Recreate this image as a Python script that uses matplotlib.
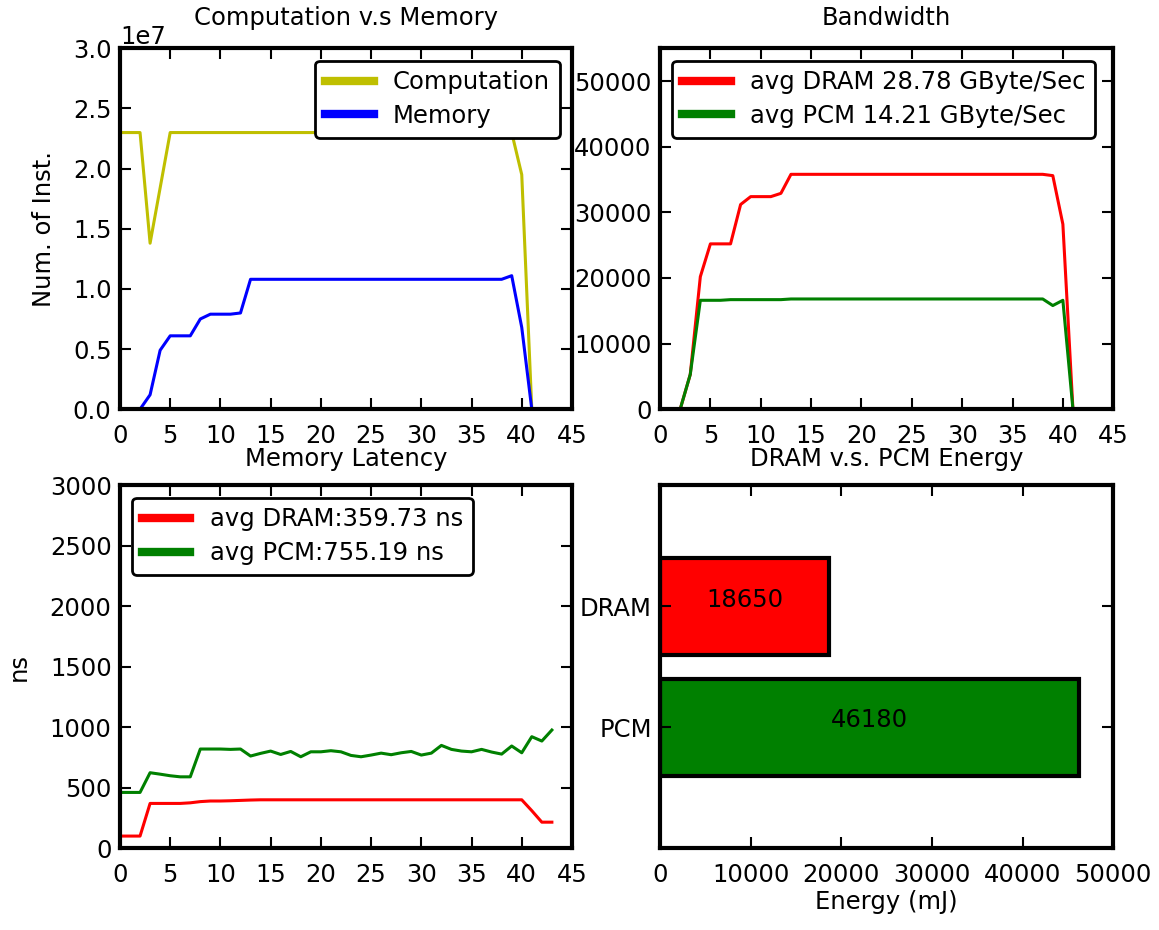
import matplotlib
matplotlib.use("Agg")
import matplotlib.pyplot as plt

# Computation v.s Memory (instructions per interval)
steps = list(range(42))
computation = [2.30e7, 2.30e7, 2.30e7, 1.38e7, 1.84e7, 2.30e7, 2.30e7, 2.30e7, 2.30e7, 2.30e7,
               2.30e7, 2.30e7, 2.30e7, 2.30e7, 2.30e7, 2.30e7, 2.30e7, 2.30e7, 2.30e7, 2.30e7,
               2.30e7, 2.30e7, 2.30e7, 2.30e7, 2.30e7, 2.30e7, 2.30e7, 2.30e7, 2.30e7, 2.30e7,
               2.30e7, 2.30e7, 2.30e7, 2.30e7, 2.30e7, 2.30e7, 2.30e7, 2.30e7, 2.30e7, 2.30e7,
               1.95e7, 0.0]
memory = [0.0, 0.0, 0.0, 0.12e7, 0.49e7, 0.61e7, 0.61e7, 0.61e7, 0.75e7, 0.79e7,
          0.79e7, 0.79e7, 0.80e7, 1.08e7, 1.08e7, 1.08e7, 1.08e7, 1.08e7, 1.08e7, 1.08e7,
          1.08e7, 1.08e7, 1.08e7, 1.08e7, 1.08e7, 1.08e7, 1.08e7, 1.08e7, 1.08e7, 1.08e7,
          1.08e7, 1.08e7, 1.08e7, 1.08e7, 1.08e7, 1.08e7, 1.08e7, 1.08e7, 1.08e7, 1.11e7,
          0.68e7, 0.0]

# Bandwidth
bw_dram = [0, 0, 0, 5300, 20200, 25200, 25200, 25200, 31200, 32400,
           32400, 32400, 32900, 35800, 35800, 35800, 35800, 35800, 35800, 35800,
           35800, 35800, 35800, 35800, 35800, 35800, 35800, 35800, 35800, 35800,
           35800, 35800, 35800, 35800, 35800, 35800, 35800, 35800, 35800, 35600,
           28200, 0]
bw_pcm = [0, 0, 0, 5300, 16600, 16600, 16600, 16700, 16700, 16700,
          16700, 16700, 16700, 16800, 16800, 16800, 16800, 16800, 16800, 16800,
          16800, 16800, 16800, 16800, 16800, 16800, 16800, 16800, 16800, 16800,
          16800, 16800, 16800, 16800, 16800, 16800, 16800, 16800, 16800, 15800,
          16600, 0]

# Memory latency (ns)
lat_steps = list(range(44))
lat_dram = [100, 100, 100, 370, 370, 370, 370, 375, 385, 390,
            390, 392, 395, 398, 400, 400, 400, 400, 400, 400,
            400, 400, 400, 400, 400, 400, 400, 400, 400, 400,
            400, 400, 400, 400, 400, 400, 400, 400, 400, 400,
            400, 310, 215, 215]
lat_pcm = [461, 461, 461, 624, 612, 599, 590, 590, 820, 820,
           820, 817, 820, 762, 784, 803, 775, 800, 756, 797,
           797, 806, 797, 767, 756, 770, 786, 773, 789, 800,
           770, 786, 850, 817, 803, 797, 817, 795, 778, 845,
           789, 922, 886, 977]

# Energy
mem_types = ["PCM", "DRAM"]
energy = [46180, 18650]
energy_colors = ["#008000", "#ff0000"]

FS = 17.5
plt.rcParams["font.family"] = "DejaVu Sans"
plt.rcParams["font.size"] = FS


def style_axes(ax):
    for sp in ax.spines.values():
        sp.set_linewidth(3)
    ax.tick_params(direction="in", length=8, width=1.5, top=True, right=True,
                   labelsize=FS, pad=6)
    ax.tick_params(axis="x", pad=11)


def add_legend(ax, loc):
    leg = ax.legend(loc=loc, fontsize=FS, fancybox=True, framealpha=1,
                    edgecolor="black", handlelength=2.0, borderpad=0.4,
                    labelspacing=0.4)
    leg.get_frame().set_linewidth(2)
    for ln in leg.get_lines():
        ln.set_linewidth(6)
    return leg


fig = plt.figure(figsize=(11.59, 9.30), dpi=100)

# top-left
ax1 = fig.add_axes([0.1035, 0.560, 0.390, 0.388])
ax1.plot(steps, computation, color=(0.75, 0.75, 0), lw=2.2, label="Computation")
ax1.plot(steps, memory, color="#0000ff", lw=2.2, label="Memory")
ax1.set_xlim(0, 45)
ax1.set_ylim(0, 3.0e7)
ax1.set_xticks(range(0, 46, 5))
ax1.set_title("Computation v.s Memory", fontsize=FS, pad=17)
ax1.set_ylabel("Num. of Inst.", fontsize=FS, labelpad=12)
style_axes(ax1)
ax1.yaxis.get_offset_text().set_fontsize(FS)
add_legend(ax1, "upper right")

# top-right
ax2 = fig.add_axes([0.5695, 0.560, 0.391, 0.388])
ax2.plot(steps, bw_dram, color="#ff0000", lw=2.2, label="avg DRAM 28.78 GByte/Sec")
ax2.plot(steps, bw_pcm, color="#008000", lw=2.2, label="avg PCM 14.21 GByte/Sec")
ax2.set_xlim(0, 45)
ax2.set_ylim(0, 55000)
ax2.set_xticks(range(0, 46, 5))
ax2.set_yticks(range(0, 50001, 10000))
ax2.set_title("Bandwidth", fontsize=FS, pad=17)
style_axes(ax2)
add_legend(ax2, "upper left")

# bottom-left
ax3 = fig.add_axes([0.1035, 0.088, 0.390, 0.390])
ax3.plot(lat_steps, lat_dram, color="#ff0000", lw=2.2, label="avg DRAM:359.73 ns")
ax3.plot(lat_steps, lat_pcm, color="#008000", lw=2.2, label="avg PCM:755.19 ns")
ax3.set_xlim(0, 45)
ax3.set_ylim(0, 3000)
ax3.set_xticks(range(0, 46, 5))
ax3.set_title("Memory Latency", fontsize=FS, pad=14)
ax3.set_ylabel("ns", fontsize=FS, labelpad=14)
style_axes(ax3)
add_legend(ax3, "upper left")

# bottom-right
ax4 = fig.add_axes([0.5695, 0.088, 0.391, 0.390])
ypos = list(range(len(mem_types)))
bars = ax4.barh(ypos, energy, height=0.8, color=energy_colors,
                edgecolor="black", linewidth=3)
for b, v in zip(bars, energy):
    ax4.text(b.get_width() / 2, b.get_y() + b.get_height() * 0.57, str(v),
             ha="center", va="center", fontsize=FS, color="black")
ax4.set_yticks(ypos)
ax4.set_yticklabels(mem_types)
ax4.set_ylim(-1, 2)
ax4.set_xlim(0, 50000)
ax4.set_xticks(range(0, 50001, 10000))
ax4.set_xlabel("Energy (mJ)", fontsize=FS, labelpad=2)
ax4.set_title("DRAM v.s. PCM Energy", fontsize=FS, pad=14)
style_axes(ax4)

fig.savefig("out.png", dpi=100, facecolor="white")
